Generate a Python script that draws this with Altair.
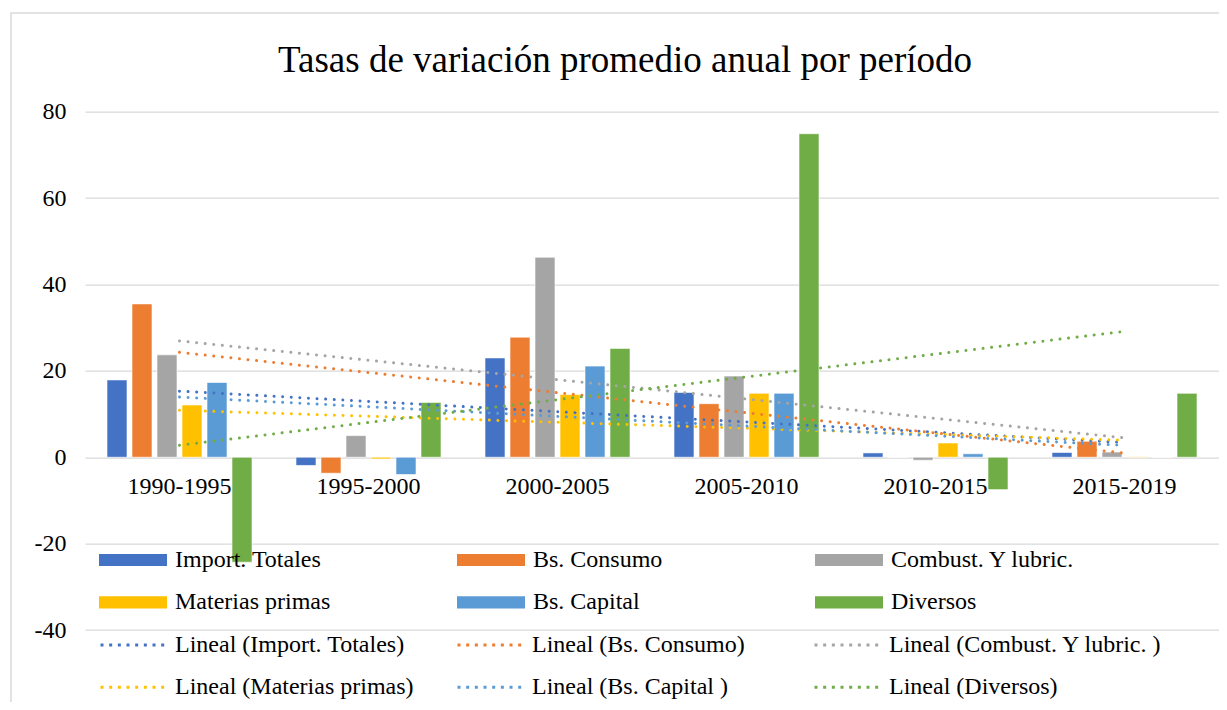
import altair as alt
import pandas as pd

FONT = "Liberation Serif"

PERIODS = ["1990-1995", "1995-2000", "2000-2005", "2005-2010", "2010-2015", "2015-2019"]
SERIES = ["Import. Totales", "Bs. Consumo", "Combust. Y lubric.", "Materias primas", "Bs. Capital", "Diversos"]
TRENDS = ["Lineal (Import. Totales)", "Lineal (Bs. Consumo)", "Lineal (Combust. Y lubric. )",
          "Lineal (Materias primas)", "Lineal (Bs. Capital )", "Lineal (Diversos)"]
COLORS = ["#4472C4", "#ED7D31", "#A5A5A5", "#FFC000", "#5B9BD5", "#70AD47"]

IMPORT_TOTALES = [17.9, -1.9, 23.0, 15.0, 1.0, 1.1]
BS_CONSUMO = [35.5, -3.7, 27.8, 12.4, 0.0, 3.7]
COMBUST_LUBRIC = [23.7, 5.0, 46.3, 18.8, -0.7, 1.2]
MATERIAS_PRIMAS = [12.1, -0.4, 14.5, 14.8, 3.3, 0.1]
BS_CAPITAL = [17.3, -4.0, 21.1, 14.8, 0.8, 0.0]
DIVERSOS = [-24.3, 12.7, 25.2, 74.9, -7.5, 14.8]

VALUES = [IMPORT_TOTALES, BS_CONSUMO, COMBUST_LUBRIC, MATERIAS_PRIMAS, BS_CAPITAL, DIVERSOS]

rows = []
for s, t, vals in zip(SERIES, TRENDS, VALUES):
    for i, (p, v) in enumerate(zip(PERIODS, vals)):
        rows.append({"periodo": p, "idx": i + 1, "serie": s, "trend": t, "valor": v})
df = pd.DataFrame(rows)

W = 1134
H = 518.3
YMIN, YMAX = -40, 80
zero_offset = -H * (0 - YMIN) / (YMAX - YMIN)

y_scale = alt.Scale(domain=[YMIN, YMAX], nice=False, zero=False)

bars = alt.Chart(df).mark_bar(stroke="white", strokeWidth=0.6).encode(
    x=alt.X("periodo:N", sort=PERIODS,
            scale=alt.Scale(paddingInner=0, paddingOuter=0),
            axis=alt.Axis(title=None, orient="bottom", offset=zero_offset, domain=False,
                          ticks=False, tickSize=0, labelPadding=36, labelBaseline="alphabetic",
                          labelAngle=0, labelFont=FONT, labelFontSize=24, labelColor="black",
                          grid=False)),
    xOffset=alt.XOffset("serie:N", sort=SERIES,
                        scale=alt.Scale(paddingInner=0.2, paddingOuter=0.88)),
    y=alt.Y("valor:Q", scale=y_scale,
            axis=alt.Axis(title=None, values=[-40, -20, 0, 20, 40, 60, 80], domain=False,
                          ticks=False, tickSize=0, labelPadding=19, labelFont=FONT,
                          labelFontSize=24, labelColor="black", grid=True,
                          labelExpr="toString(datum.value)",
                          gridColor="#d9d9d9", gridWidth=1.3)),
    color=alt.Color("serie:N", sort=SERIES,
                    scale=alt.Scale(domain=SERIES, range=COLORS),
                    legend=alt.Legend(title=None, orient="none", legendX=14, legendY=435.3,
                                      direction="horizontal",
                                      columns=3, gridAlign="all", columnPadding=98,
                                      rowPadding=16.3, clipHeight=26,
                                      symbolType="M-1,-0.18H1V0.18H-1Z", symbolSize=4624,
                                      symbolStrokeWidth=0, symbolOpacity=1,
                                      labelFont=FONT, labelFontSize=24, labelColor="black",
                                      labelOffset=8, padding=0, labelLimit=400)),
)

trend = alt.Chart(df).transform_regression(
    "idx", "valor", groupby=["trend"], method="linear", extent=[1, 6]
).mark_line(strokeWidth=3, strokeCap="round", strokeDash=[0.01, 8.6]).encode(
    x=alt.X("idx:Q", scale=alt.Scale(domain=[0.5, 6.5], nice=False, zero=False), axis=None),
    y=alt.Y("valor:Q", scale=y_scale),
    stroke=alt.Stroke("trend:N", sort=TRENDS,
                      scale=alt.Scale(domain=TRENDS, range=COLORS),
                      legend=alt.Legend(title=None, orient="none", legendX=14, legendY=520.3,
                                        direction="horizontal",
                                        columns=3, gridAlign="all", columnPadding=7,
                                        rowPadding=16.3, clipHeight=26,
                                        symbolType="stroke", symbolSize=4489,
                                        symbolStrokeWidth=3, symbolDash=[3, 5.67],
                                        labelFont=FONT, labelFontSize=24, labelColor="black",
                                        labelOffset=6, padding=0, labelLimit=400)),
)

border = alt.Chart(pd.DataFrame({"a": [0]})).mark_rect(
    filled=False, stroke="#d9d9d9", strokeWidth=1.5
).encode(
    x=alt.value(-74), x2=alt.value(1200), y=alt.value(-98.7), y2=alt.value(700)
)

chart = alt.layer(border, bars, trend).resolve_scale(
    x="independent"
).properties(
    width=W, height=H,
    autosize=alt.AutoSizeParams(type="none"),
    padding={"left": 77, "top": 103.7, "right": 0, "bottom": 72},
    title=alt.TitleParams("Tasas de variación promedio anual por período", font=FONT,
                          fontSize=37, fontWeight="normal", color="black", anchor="middle",
                          frame="group", dx=-27, offset=-96.8, baseline="alphabetic"),
).configure_view(stroke=None)

chart.save("out.html", embed_options={"renderer": "svg", "actions": False})
